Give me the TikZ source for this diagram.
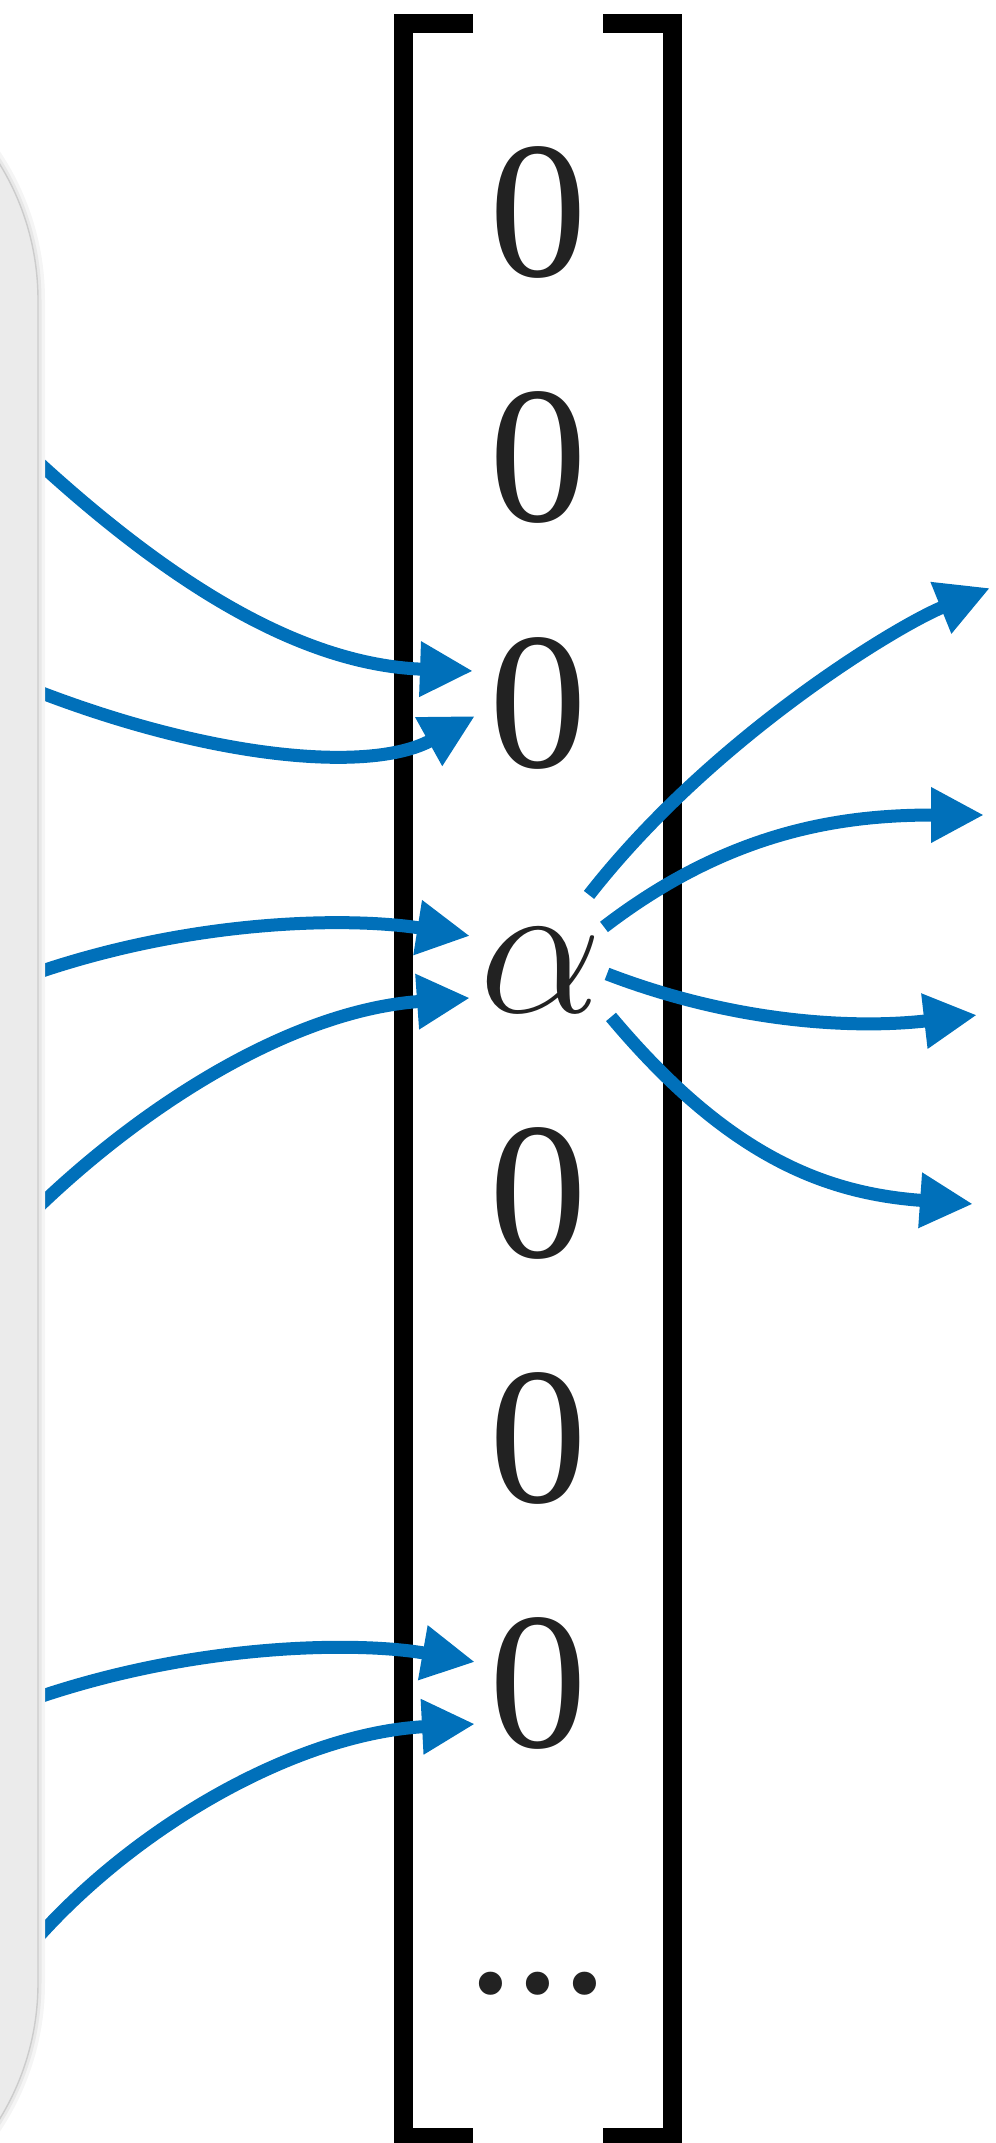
\RequirePackage{fix-cm}
\documentclass[tikz,border=0pt]{standalone}
\usepackage{fontspec}
\setmainfont{Liberation Serif}
\usepackage{tikz}
\usetikzlibrary{arrows.meta, calc}
\definecolor{vecblue}{RGB}{0,112,186}
\definecolor{entrygray}{RGB}{34,34,34}
\definecolor{panelgray}{RGB}{235,235,235}

\begin{document}
\begin{tikzpicture}[every node/.style={font=\fontsize{55.6}{60}\selectfont,text=entrygray,inner sep=0pt},
    flow/.style={-{Triangle[length=0.53cm,width=0.52cm]},vecblue,line width=0.13cm},
    brack/.style={line width=0.19cm}]
  \clip (0,0) rectangle (9.95,-21.43);
  % vector entries, one per row
  \foreach \i/\t in {1/0,2/0,3/0,5/0,6/0,7/0}
    \node[anchor=base] (r\i) at (5.38,{-2.77-2.45*(\i-1)}) {\t};
  \node[anchor=base] (r4) at (5.41,-10.12) {$\alpha$};
  \node[anchor=base] (r8) at (5.38,-19.92) {.\kern-0.5pt.\kern-0.5pt.};
  % brackets
  \draw[brack] (4.73,-0.235) -- (4.035,-0.235) -- (4.035,-21.375) -- (4.73,-21.375);
  \draw[brack] (6.03,-0.235) -- (6.725,-0.235) -- (6.725,-21.375) -- (6.03,-21.375);
  % arrows coming in from the panel
  \coordinate (in1) at (0.25,-4.50);
  \coordinate (in2) at (0.19,-6.84);
  \coordinate (in3) at (0.19,-9.79);
  \coordinate (in4) at (0.24,-12.21);
  \coordinate (in5) at (0.19,-17.04);
  \coordinate (in6) at (0.25,-19.52);
  \draw[flow] (in1) .. controls +(-43:1.8) and +(178:1.8) .. ([shift={(-0.65,0.32)}]r3.center);
  \draw[flow] (in2) .. controls +(-22:2.0) and +(209:1.2) .. ([shift={(-0.63,-0.13)}]r3.center);
  \draw[flow] (in3) .. controls +(20:1.8) and +(171:1.2) .. ([shift={(-0.71,0.34)}]r4.center);
  \draw[flow] (in4) .. controls +(45:1.6) and +(184:1.8) .. ([shift={(-0.71,-0.28)}]r4.center);
  \draw[flow] (in5) .. controls +(20:1.8) and +(170:1.2) .. ([shift={(-0.63,0.21)}]r7.center);
  \draw[flow] (in6) .. controls +(50:1.6) and +(183:1.8) .. ([shift={(-0.63,-0.41)}]r7.center);
  % arrows going out of alpha
  \coordinate (out1) at (9.90,-5.88);
  \coordinate (out2) at (9.84,-8.15);
  \coordinate (out3) at (9.77,-10.15);
  \coordinate (out4) at (9.73,-12.04);
  \draw[flow] ([shift={(0.48,0.75)}]r4.center) .. controls +(52:2.0) and +(202:1.0) .. (out1);
  \draw[flow] ([shift={(0.63,0.43)}]r4.center) .. controls +(37.5:1.6) and +(180:1.4) .. (out2);
  \draw[flow] ([shift={(0.66,-0.04)}]r4.center) .. controls +(-21:1.4) and +(186.6:1.2) .. (out3);
  \draw[flow] ([shift={(0.70,-0.47)}]r4.center) .. controls +(-50:1.8) and +(176:1.5) .. (out4);
  % grey panel on the left
  \draw[black!4,line width=0.14cm,rounded corners=2.6cm] (-6,-0.40) rectangle (0.38,-22.43);
  \draw[black!9,line width=0.07cm,rounded corners=2.6cm] (-6,-0.40) rectangle (0.38,-22.43);
  \draw[black!20,fill=panelgray,line width=0.4pt,rounded corners=2.6cm] (-6,-0.40) rectangle (0.38,-22.43);
\end{tikzpicture}
\end{document}
